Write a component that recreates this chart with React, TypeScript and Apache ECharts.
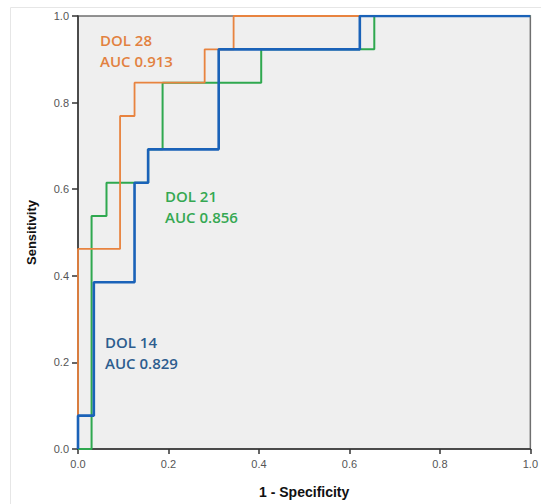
import React, { useEffect, useRef } from "react";
import * as echarts from "echarts";

// ROC curve vertices (1 - specificity, sensitivity)
const dol28Fpr = [0, 0, 0.093, 0.093, 0.125, 0.125, 0.28, 0.28, 0.344, 0.344, 1];
const dol28Tpr = [0, 0.462, 0.462, 0.769, 0.769, 0.846, 0.846, 0.923, 0.923, 1, 1];

const dol21Fpr = [0, 0.03, 0.03, 0.063, 0.063, 0.155, 0.155, 0.187, 0.187, 0.405, 0.405, 0.655, 0.655, 1];
const dol21Tpr = [0, 0, 0.538, 0.538, 0.615, 0.615, 0.692, 0.692, 0.846, 0.846, 0.923, 0.923, 1, 1];

const dol14Fpr = [0, 0, 0.035, 0.035, 0.125, 0.125, 0.155, 0.155, 0.311, 0.311, 0.623, 0.623, 1];
const dol14Tpr = [0, 0.077, 0.077, 0.385, 0.385, 0.615, 0.615, 0.692, 0.692, 0.923, 0.923, 1, 1];

const labels28 = ["DOL 28", "AUC 0.913"];
const labels21 = ["DOL 21", "AUC 0.856"];
const labels14 = ["DOL 14", "AUC 0.829"];

const zip = (xs: number[], ys: number[]) => xs.map((x, i) => [x, ys[i]]);

export default function App() {
  const ref = useRef<HTMLDivElement>(null);
  useEffect(() => {
    if (!ref.current) return;
    const chart = echarts.init(ref.current, null, { renderer: "svg" });
    const labelFont = {
      fontFamily: "'Open Sans', 'Noto Sans', sans-serif",
      fontSize: 15,
      fontWeight: 600,
    };
    chart.setOption({
      animation: false,
      backgroundColor: "#ffffff",
      grid: {
        left: 78,
        right: 6,
        top: 16,
        bottom: 49,
        show: true,
        backgroundColor: "#efefef",
        borderColor: "#6f6f6f",
        borderWidth: 1.5,
      },
      xAxis: {
        type: "value",
        min: 0,
        max: 1,
        interval: 0.2,
        name: "1 - Specificity",
        nameLocation: "middle",
        nameGap: 36,
        nameTextStyle: { fontFamily: "'Liberation Sans', Arial, sans-serif", fontWeight: "bold", fontSize: 14, color: "#111" },
        axisLine: { show: true, lineStyle: { color: "#333", width: 1.5 } },
        axisTick: { show: true, length: 5, lineStyle: { color: "#333", width: 1.5 } },
        axisLabel: {
          margin: 9,
          color: "#555",
          fontSize: 11,
          fontFamily: "'Liberation Sans', Arial, sans-serif",
          formatter: (v: number) => v.toFixed(1),
        },
        splitLine: { show: false },
      },
      yAxis: {
        type: "value",
        min: 0,
        max: 1,
        interval: 0.2,
        name: "Sensitivity",
        nameLocation: "middle",
        nameGap: 40,
        nameTextStyle: { fontFamily: "'Liberation Sans', Arial, sans-serif", fontWeight: "bold", fontSize: 13, color: "#111" },
        axisLine: { show: true, lineStyle: { color: "#333", width: 1.5 } },
        axisTick: { show: true, length: 6, lineStyle: { color: "#333", width: 1.5 } },
        axisLabel: {
          margin: 9,
          color: "#555",
          fontSize: 11,
          fontFamily: "'Liberation Sans', Arial, sans-serif",
          formatter: (v: number) => v.toFixed(1),
        },
        splitLine: { show: false },
      },
      series: [
        {
          name: "DOL 21",
          type: "line",
          data: zip(dol21Fpr, dol21Tpr),
          symbol: "none",
          lineStyle: { color: "#2fa84f", width: 2 },
          z: 2,
        },
        {
          name: "DOL 28",
          type: "line",
          data: zip(dol28Fpr, dol28Tpr),
          symbol: "none",
          lineStyle: { color: "#e8833f", width: 1.8 },
          z: 3,
        },
        {
          name: "DOL 14",
          type: "line",
          data: zip(dol14Fpr, dol14Tpr),
          symbol: "none",
          lineStyle: { color: "#1a62b8", width: 2.6 },
          z: 4,
        },
      ],
      graphic: [
        {
          type: "rect",
          shape: { x: 10.5, y: 7.5, width: 540, height: 500 },
          style: { fill: "none", stroke: "#e6e6e6", lineWidth: 1 },
          silent: true,
          z: 0,
        },
        {
          type: "text",
          left: 100,
          top: 29,
          style: { text: labels28.join("\n"), fill: "#e2813f", lineHeight: 21, ...labelFont },
          z: 10,
        },
        {
          type: "text",
          left: 165,
          top: 185,
          style: { text: labels21.join("\n"), fill: "#35a852", lineHeight: 21, ...labelFont },
          z: 10,
        },
        {
          type: "text",
          left: 105,
          top: 331,
          style: { text: labels14.join("\n"), fill: "#2d5d8e", lineHeight: 21, ...labelFont },
          z: 10,
        },
      ],
    });
    return () => chart.dispose();
  }, []);
  return (
    <div
      ref={ref}
      style={{ position: "absolute", left: 0, top: 0, width: 541, height: 504 }}
    />
  );
}
